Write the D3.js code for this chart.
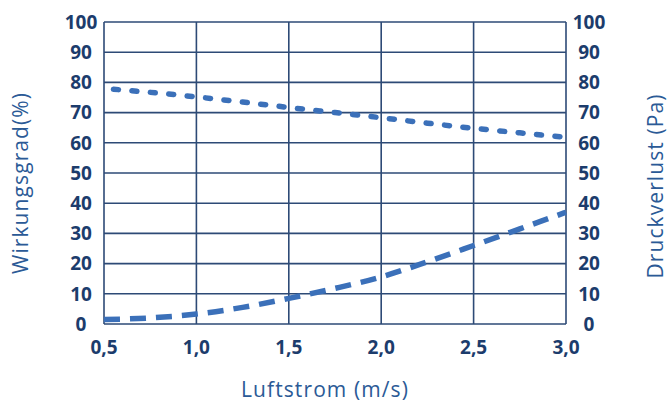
<!DOCTYPE html>
<html>
<head>
<meta charset="utf-8">
<script src="https://cdn.jsdelivr.net/npm/d3@7"></script>
<style>
  body { margin: 0; background: #fff; }
  svg { display: block; }
  .tick-label { font-family: "Open Sans", sans-serif; font-weight: 700; font-size: 19px; fill: #1c3c6c; }
  .axis-title { font-family: "Open Sans", sans-serif; font-weight: 400; font-size: 21px; letter-spacing: 1.1px; fill: #2b5a96; }
</style>
</head>
<body>
<div class="container"></div>
<script>
const airflow = [0.5, 0.75, 1.0, 1.25, 1.5, 1.75, 2.0, 2.25, 2.5, 2.75, 3.0]
const efficiency = [78, 76.7, 75.2, 73.5, 71.7, 70, 68.3, 66.5, 64.8, 63.3, 61.8]
const pressureLoss = [1.5, 2.0, 3.3, 5.5, 8.5, 11.8, 15.6, 20.6, 26, 31.5, 37]
const xTicks = [0.5, 1.0, 1.5, 2.0, 2.5, 3.0]
const yTicks = [0, 10, 20, 30, 40, 50, 60, 70, 80, 90, 100]

const w = 670
const h = 404
const plotLeft = 104, plotRight = 566, plotTop = 22, plotBottom = 324

const xScale = d3.scaleLinear().domain([0.5, 3.0]).range([plotLeft, plotRight])
const yScale = d3.scaleLinear().domain([0, 100]).range([plotBottom, plotTop])
const yScaleRight = d3.scaleLinear().domain([0, 100]).range([plotBottom, plotTop])
const fmt = d3.format(".1f")
const comma = (d) => fmt(d).replace(".", ",")

const svg = d3.select(".container")
  .append("svg")
  .attr("width", w)
  .attr("height", h)

// grid
svg.append("g")
  .selectAll("line")
  .data(yTicks)
  .enter()
  .append("line")
  .attr("x1", plotLeft).attr("x2", plotRight)
  .attr("y1", (d) => yScale(d)).attr("y2", (d) => yScale(d))
  .attr("stroke", "#2d4a76")
  .attr("stroke-width", 1.6)

svg.append("g")
  .selectAll("line")
  .data(xTicks)
  .enter()
  .append("line")
  .attr("y1", plotTop).attr("y2", plotBottom)
  .attr("x1", (d) => xScale(d)).attr("x2", (d) => xScale(d))
  .attr("stroke", "#2d4a76")
  .attr("stroke-width", 1.6)

// tick labels
svg.append("g")
  .selectAll("text")
  .data(yTicks)
  .enter()
  .append("text")
  .attr("class", "tick-label")
  .attr("x", 81)
  .attr("y", (d) => yScale(d))
  .attr("dy", "0.36em")
  .attr("text-anchor", "middle")
  .text((d) => d)

svg.append("g")
  .selectAll("text")
  .data(yTicks)
  .enter()
  .append("text")
  .attr("class", "tick-label")
  .attr("x", 589)
  .attr("y", (d) => yScaleRight(d))
  .attr("dy", "0.36em")
  .attr("text-anchor", "middle")
  .text((d) => d)

svg.append("g")
  .selectAll("text")
  .data(xTicks)
  .enter()
  .append("text")
  .attr("class", "tick-label")
  .attr("x", (d) => xScale(d))
  .attr("y", 347)
  .attr("dy", "0.36em")
  .attr("text-anchor", "middle")
  .text((d) => comma(d))

// lines
const line = (vals, scale) => d3.line()
  .x((d, i) => xScale(airflow[i]))
  .y((d) => scale(d))
  .curve(d3.curveMonotoneX)(vals)

svg.append("path")
  .attr("d", line(efficiency, yScale))
  .attr("fill", "none")
  .attr("stroke", "#3b70b9")
  .attr("stroke-width", 5.5)
  .attr("stroke-linecap", "round")
  .attr("stroke-dasharray", "5 13.5")
  .attr("stroke-dashoffset", 9)

svg.append("path")
  .attr("d", line(pressureLoss, yScaleRight))
  .attr("fill", "none")
  .attr("stroke", "#3b70b9")
  .attr("stroke-width", 5.5)
  .attr("stroke-dasharray", "16 10")

// axis titles
svg.append("text")
  .attr("class", "axis-title")
  .attr("x", 325)
  .attr("y", 397)
  .attr("text-anchor", "middle")
  .text("Luftstrom (m/s)")

svg.append("text")
  .attr("class", "axis-title")
  .attr("transform", "translate(28,183) rotate(-90)")
  .attr("text-anchor", "middle")
  .text("Wirkungsgrad(%)")

svg.append("text")
  .attr("class", "axis-title")
  .attr("transform", "translate(663,186) rotate(-90)")
  .attr("text-anchor", "middle")
  .text("Druckverlust (Pa)")
</script>
</body>
</html>
